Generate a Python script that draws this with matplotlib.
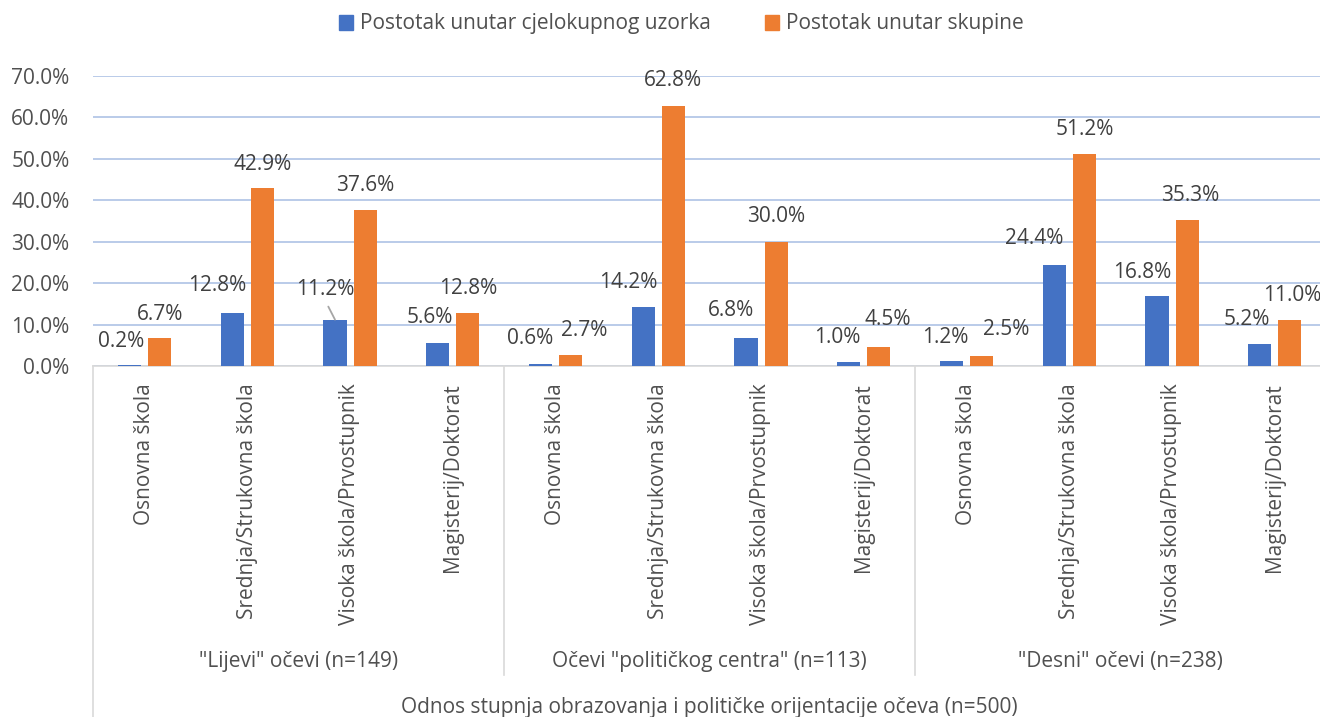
"""
Grouped bar chart: education level vs. political orientation of fathers.
Recreated in the style of an Excel clustered column chart with a
multi-level category axis.
"""

import numpy as np
import matplotlib
matplotlib.use("Agg")
import matplotlib.pyplot as plt
import matplotlib.transforms as mtransforms
from matplotlib.lines import Line2D
from matplotlib.patches import Patch
from matplotlib.ticker import PercentFormatter

# ==============================================================================
#                               Data
# ==============================================================================

education_levels = ["Osnovna škola",
                    "Srednja/Strukovna škola",
                    "Visoka škola/Prvostupnik",
                    "Magisterij/Doktorat"]
group_names = ['"Lijevi" očevi (n=149)',
               'Očevi "političkog centra" (n=113)',
               '"Desni" očevi (n=238)']
axis_title = "Odnos stupnja obrazovanja i političke orijentacije očeva (n=500)"
series_names = ["Postotak unutar cjelokupnog uzorka",
                "Postotak unutar skupine"]

# percent of the whole sample
share_total = [0.2, 12.8, 11.2, 5.6,
               0.6, 14.2, 6.8, 1.0,
               1.2, 24.4, 16.8, 5.2]
# percent inside the group
share_group = [6.7, 42.9, 37.6, 12.8,
               2.7, 62.8, 30.0, 4.5,
               2.5, 51.2, 35.3, 11.0]

# ==============================================================================
#                               Style
# ==============================================================================

BLUE = "#4472C4"
ORANGE = "#ED7D31"
GRID = "#B4C7E7"
AXIS = "#D9D9D9"
TXT = "#505050"
LBL = "#404040"
FS = 15

# data label nudges (pixels), Excel moved some labels to avoid overlap
total_nudge = [(-8.5, 24), (-15.5, 27), (-10, 30), (-7.5, 25),
               (-10, 25.5), (-14.5, 24.5), (-14.6, 27), (-11, 24.6),
               (-6, 24), (-20.5, 26.7), (-15, 24), (-12.5, 24.5)]
group_nudge = [(0, 24), (0, 24), (0, 24.6), (0, 24.3),
               (14, 24), (0, 25), (0, 25), (9, 28),
               (25, 26), (0, 24), (3, 24), (2, 25)]
leader_idx = 2  # label 11.2% has a leader line

W, H = 1320, 717
plt.rcParams["font.family"] = ["Open Sans", "DejaVu Sans"]

fig = plt.figure(figsize=(W / 100, H / 100), dpi=100)
ax_left, ax_bottom, ax_top = 93, 366, 76
cat_px = 102.75
ax = fig.add_axes([ax_left / W, 1 - ax_bottom / H,
                   1 - ax_left / W, (ax_bottom - ax_top) / H])

n_cat = len(share_total)
x = np.arange(n_cat)
bar_w = 0.225
ax.bar(x - 0.145, share_total, bar_w, color=BLUE, zorder=3)
ax.bar(x + 0.148, share_group, bar_w, color=ORANGE, zorder=3)

ax.set_xlim(-0.5, -0.5 + (W - ax_left) / cat_px)
ax.set_ylim(0, 70)
ax.set_yticks(np.arange(0, 71, 10))
ax.yaxis.set_major_formatter(PercentFormatter(100, decimals=1))
ax.tick_params(axis="y", length=0, pad=17, labelsize=FS, labelcolor=TXT)
ax.set_xticks([])
ax.grid(axis="y", color=GRID, linewidth=1.3, zorder=0)
for side in ["top", "right", "left"]:
    ax.spines[side].set_visible(False)
ax.spines["bottom"].set_color(AXIS)
ax.spines["bottom"].set_linewidth(1.2)

# data labels
for i in range(n_cat):
    dx, dy = total_nudge[i]
    kw = {}
    if i == leader_idx:
        kw["arrowprops"] = dict(arrowstyle="-", color="#A6A6A6", lw=1.3,
                                shrinkA=3, shrinkB=0, relpos=(0.5, 0))
    ax.annotate(f"{share_total[i]:.1f}%", (x[i] - 0.145, share_total[i]),
                xytext=(dx, dy), textcoords="offset pixels",
                ha="center", va="center", fontsize=FS, color=LBL,
                annotation_clip=False, **kw)
    dx, dy = group_nudge[i]
    ax.annotate(f"{share_group[i]:.1f}%", (x[i] + 0.148, share_group[i]),
                xytext=(dx, dy), textcoords="offset pixels",
                ha="center", va="center", fontsize=FS, color=LBL,
                annotation_clip=False)

# multi-level category axis
trans = mtransforms.blended_transform_factory(ax.transData, fig.transFigure)
labels = education_levels * len(group_names)
for i, lab in enumerate(labels):
    ax.text(x[i], 1 - 383 / H, lab, transform=trans, rotation=90,
            ha="center", va="top", fontsize=FS, color=TXT)

n_lvl = len(education_levels)
y_axis = 1 - ax_bottom / H
for g, name in enumerate(group_names):
    xc = g * n_lvl + (n_lvl - 1) / 2
    ax.text(xc, 1 - 662 / H, name, transform=trans,
            ha="center", va="center", fontsize=FS, color=TXT)

# separators: outer left line runs to the bottom, group lines stop above title
seps = [g * n_lvl - 0.5 for g in range(len(group_names) + 1)]
for k, sep in enumerate(seps):
    y_end = 0.0 if k == 0 else 1 - 675 / H
    ax.add_line(Line2D([sep, sep], [y_axis, y_end], transform=trans,
                       color=AXIS, lw=1.2, clip_on=False))

ax.text((n_cat - 1) / 2, 1 - 707 / H, axis_title, transform=trans,
        ha="center", va="center", fontsize=FS, color=TXT)

# legend
handles = [Patch(color=BLUE), Patch(color=ORANGE)]
fig.legend(handles, series_names, loc="center",
           bbox_to_anchor=(0.516, 1 - 24 / H), ncol=2, frameon=False,
           fontsize=FS, labelcolor=TXT, handlelength=0.7, handleheight=0.7,
           handletextpad=0.3, columnspacing=2.6)

fig.savefig("out.png", dpi=100)
